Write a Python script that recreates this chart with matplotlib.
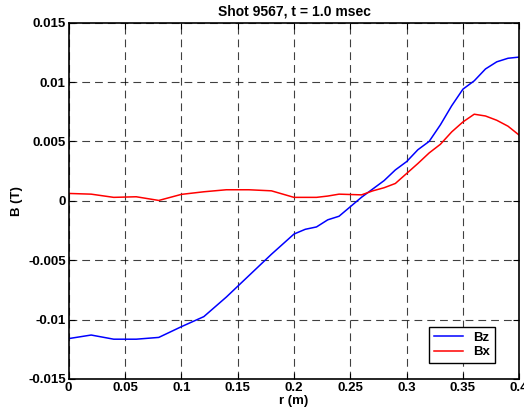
import matplotlib
matplotlib.use('Agg')
import matplotlib.pyplot as plt

r = [0.00, 0.02, 0.04, 0.06, 0.08, 0.10, 0.12, 0.14, 0.16, 0.18, 0.20,
     0.21, 0.22, 0.23, 0.24, 0.25, 0.26, 0.27, 0.28, 0.29, 0.30,
     0.31, 0.32, 0.33, 0.34, 0.35, 0.36, 0.37, 0.38, 0.39, 0.40]
bz = [-0.0116, -0.0113, -0.01165, -0.01165, -0.0115, -0.0106, -0.00975, -0.0081, -0.0063, -0.0045, -0.0028,
      -0.0024, -0.0022, -0.0016, -0.0013, -0.0005, 0.0003, 0.0010, 0.0017, 0.0026, 0.0033,
      0.0043, 0.0050, 0.0064, 0.0080, 0.0094, 0.0101, 0.0111, 0.0117, 0.0120, 0.0121]
bx = [0.00062, 0.00056, 0.00029, 0.00034, 0.00003, 0.00054, 0.00076, 0.00093, 0.00093, 0.00084, 0.00029,
      0.00029, 0.00029, 0.00040, 0.00056, 0.00053, 0.00050, 0.00084, 0.00110, 0.00146, 0.00230,
      0.00314, 0.00403, 0.00476, 0.00580, 0.00664, 0.00729, 0.00714, 0.00678, 0.00628, 0.00552]

xticks = [0, 0.05, 0.1, 0.15, 0.2, 0.25, 0.3, 0.35, 0.4]
xticklabels = ['0', '0.05', '0.1', '0.15', '0.2', '0.25', '0.3', '0.35', '0.4']
yticks = [-0.015, -0.01, -0.005, 0, 0.005, 0.01, 0.015]
yticklabels = ['-0.015', '-0.01', '-0.005', '0', '0.005', '0.01', '0.015']

plt.rcParams['font.family'] = ['Liberation Sans', 'DejaVu Sans']
plt.rcParams['font.weight'] = 'bold'
plt.rcParams['font.size'] = 9.5

fig = plt.figure(figsize=(5.24, 4.19), dpi=100)
ax = fig.add_axes([0.131, 0.0955, 0.86, 0.8505])

ax.plot(r, bz, color='#0000ff', lw=1.1, label='Bz')
ax.plot(r, bx, color='#ff0000', lw=1.1, label='Bx')

ax.set_xlim(0, 0.4)
ax.set_ylim(-0.015, 0.015)
ax.set_xticks(xticks)
ax.set_xticklabels(xticklabels)
ax.set_yticks(yticks)
ax.set_yticklabels(yticklabels)
ax.tick_params(direction='in', top=True, right=True, length=4, width=0.8, pad=2)
ax.grid(True, color='black', linestyle=(0, (7, 4.5)), linewidth=0.8, alpha=0.75)
for s in ax.spines.values():
    s.set_linewidth(1.2)

ax.set_title('Shot 9567, t = 1.0 msec', fontweight='bold', fontsize=10, pad=5)
ax.set_xlabel('r (m)', fontweight='bold', labelpad=1)
ax.set_ylabel('B (T)', fontweight='bold', labelpad=4)

leg = ax.legend(loc='lower right', bbox_to_anchor=(0.96, 0.027), fancybox=False,
                edgecolor='black', framealpha=1, handlelength=2.2, borderpad=0.35,
                labelspacing=0.15, handletextpad=0.8, prop={'weight': 'bold', 'size': 9.5})
leg.get_frame().set_linewidth(1.0)

fig.savefig('out.png', dpi=100)
